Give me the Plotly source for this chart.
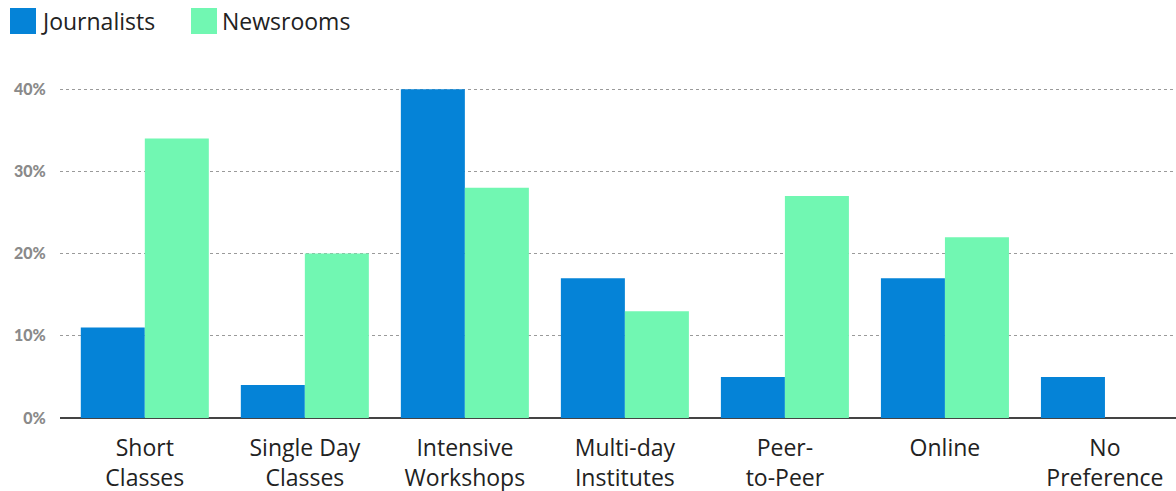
import plotly.graph_objects as go

categories = ["Short<br>Classes", "Single Day<br>Classes", "Intensive<br>Workshops",
              "Multi-day<br>Institutes", "Peer-<br>to-Peer", "Online", "No<br>Preference"]
journalists = [11, 4, 40, 17, 5, 17, 5]
newsrooms = [34, 20, 28, 13, 27, 22, None]
y_ticks = [0, 10, 20, 30, 40]
y_tick_labels = ["0%", "10%", "20%", "30%", "40%"]
series_names = ["Journalists", "Newsrooms"]

BLUE = "#0583d7"
GREEN = "#71f7b2"
FONT = "Open Sans"

W, H = 1176, 491
ML, MR, MT, MB = 60, 0, 81, 73
PW, PH = W - ML - MR, H - MT - MB

fig = go.Figure()
fig.add_trace(go.Bar(x=categories, y=journalists, name=series_names[0],
                     marker=dict(color=BLUE, line=dict(width=0)), showlegend=False))
fig.add_trace(go.Bar(x=categories, y=newsrooms, name=series_names[1],
                     marker=dict(color=GREEN, line=dict(width=0)), showlegend=False))

# custom legend (large squares + labels)
def px_x(p):
    return (p - ML) / PW

def px_y(p):
    return (H - MB - p) / PH

legend_items = [(series_names[0], BLUE, 10), (series_names[1], GREEN, 191)]
for name, color, x0 in legend_items:
    fig.add_shape(type="rect", xref="paper", yref="paper",
                  x0=px_x(x0), x1=px_x(x0 + 26), y0=px_y(34), y1=px_y(8),
                  fillcolor=color, line=dict(width=0), layer="above")
    fig.add_annotation(xref="paper", yref="paper", x=px_x(x0 + 29), y=px_y(21),
                       text=name, showarrow=False, xanchor="left", yanchor="middle",
                       font=dict(size=23, color="#222", family=FONT))

fig.update_layout(
    width=W, height=H,
    margin=dict(l=ML, r=MR, t=MT, b=MB),
    paper_bgcolor="white", plot_bgcolor="white",
    barmode="group", bargap=0.2, bargroupgap=0,
    font=dict(family=FONT, color="#222"),
    showlegend=False,
    xaxis=dict(range=[-0.53, 6.444], showgrid=False, showline=False, zeroline=False,
               automargin=False,
               tickfont=dict(size=23, color="#222", family=FONT),
               ticks="outside", ticklen=9, tickcolor="rgba(0,0,0,0)"),
    yaxis=dict(range=[0, 41], tickvals=y_ticks, ticktext=y_tick_labels,
               automargin=False,
               showgrid=True, gridcolor="#9a9a9a", griddash="dot", gridwidth=1,
               zeroline=True, zerolinecolor="#444", zerolinewidth=1.5,
               showline=False, ticks="outside", ticklen=10, tickcolor="rgba(0,0,0,0)",
               tickfont=dict(size=16, color="#8a8a8a", family="Lato Black")),
)

fig.write_html("out.html", config={"displayModeBar": False},
               post_script="document.body.style.margin='0';document.body.style.padding='0';")
